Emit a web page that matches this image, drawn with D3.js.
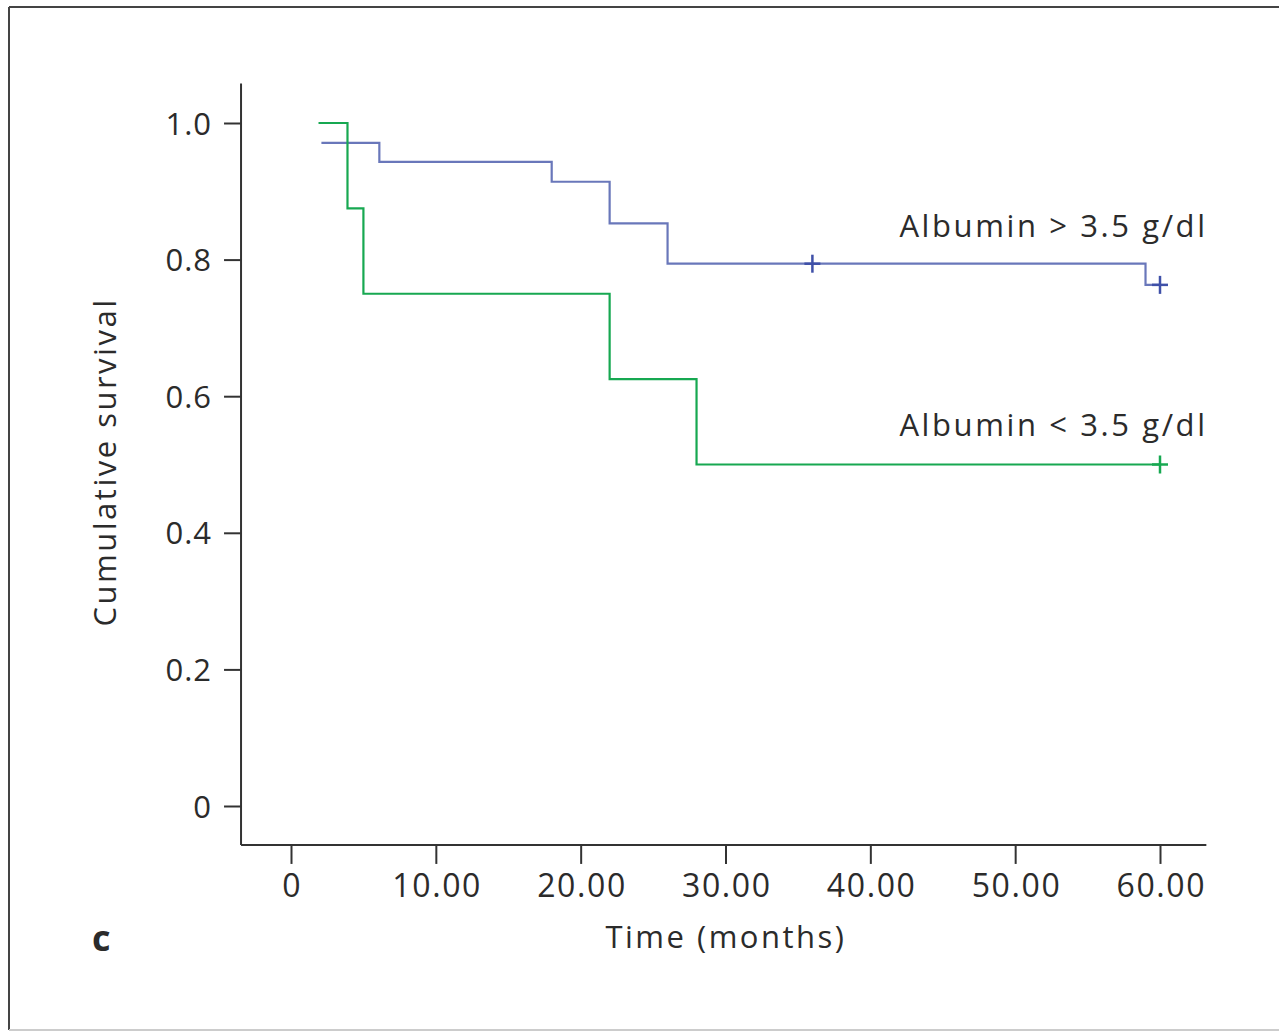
<!DOCTYPE html>
<html><head><meta charset="utf-8">
<script src="https://cdn.jsdelivr.net/npm/d3@7"></script>
<style>body{margin:0;background:#fff}svg{display:block}text{font-family:"Open Sans",sans-serif;fill:#2b2b2b}</style>
</head><body><svg id="c" width="1279" height="1032"></svg>
<script>
// Data
const highTimes = [2.1, 6.1, 18.0, 22.0, 26.0, 59.0];
const highSurv  = [0.971, 0.943, 0.914, 0.853, 0.794, 0.763];
const highEnd = 60.0;
const highCensor = [36.0, 60.0];
const lowTimes = [1.9, 3.9, 5.0, 22.0, 28.0];
const lowSurv  = [1.0, 0.875, 0.75, 0.625, 0.5];
const lowEnd = 60.0;
const lowCensor = [60.0];
const seriesLabels = ["Albumin > 3.5 g/dl", "Albumin < 3.5 g/dl"];
const xTicks = [0, 10, 20, 30, 40, 50, 60];
const xTickLabels = ["0", "10.00", "20.00", "30.00", "40.00", "50.00", "60.00"];
const yTicks = [0, 0.2, 0.4, 0.6, 0.8, 1.0];
const yTickLabels = ["0", "0.2", "0.4", "0.6", "0.8", "1.0"];
const xAxisExtent = [-3.45, 63.2];
const yAxisExtent = [-0.057, 1.058];

const svg = d3.select("#c");
const x = d3.scaleLinear().domain([0, 60]).range([291, 1160]);
const y = d3.scaleLinear().domain([0, 1]).range([806, 123]);

// frame
svg.append("line").attr("x1",9).attr("y1",7).attr("x2",1290).attr("y2",7).attr("stroke","#444").attr("stroke-width",2);
svg.append("line").attr("x1",9).attr("y1",7).attr("x2",9).attr("y2",1030).attr("stroke","#444").attr("stroke-width",2);
svg.append("line").attr("x1",9).attr("y1",1030).attr("x2",1290).attr("y2",1030).attr("stroke","#ccc").attr("stroke-width",2);

const axisColor = "#333";
// x axis
const gx = svg.append("g").attr("transform",`translate(0,${y(yAxisExtent[0])})`)
  .call(d3.axisBottom(x).tickValues(xTicks).tickFormat((d,i)=>xTickLabels[i]).tickSize(19).tickSizeOuter(0).tickPadding(10));
gx.select(".domain").attr("d", `M${x(xAxisExtent[0])},0H${x(xAxisExtent[1])}`);
gx.selectAll("path,line").attr("stroke",axisColor).attr("stroke-width",2);
gx.selectAll("text").attr("font-size",32).attr("fill","#2b2b2b").attr("font-family","Open Sans")
  .attr("letter-spacing",1.6).attr("dx",0.8);

// y axis
const gy = svg.append("g").attr("transform",`translate(${x(xAxisExtent[0])},0)`)
  .call(d3.axisLeft(y).tickValues(yTicks).tickFormat((d,i)=>yTickLabels[i]).tickSize(17).tickSizeOuter(0).tickPadding(13));
gy.select(".domain").attr("d", `M0,${y(yAxisExtent[1])}V${y(yAxisExtent[0])}`);
gy.selectAll("path,line").attr("stroke",axisColor).attr("stroke-width",2);
gy.selectAll("text").attr("font-size",31).attr("fill","#2b2b2b").attr("font-family","Open Sans").attr("dy","0.36em")
  .attr("letter-spacing",1).attr("dx",1);

// step curves
function steps(times, surv, end){
  const pts = times.map((t,i)=>[t,surv[i]]);
  pts.push([end, surv[surv.length-1]]);
  return pts;
}
const line = d3.line().x(d=>x(d[0])).y(d=>y(d[1])).curve(d3.curveStepAfter);
const blue = "#4f5fae", green = "#17a851";
svg.append("path").datum(steps(highTimes, highSurv, highEnd)).attr("d", line)
  .attr("fill","none").attr("stroke",blue).attr("stroke-width",2.2).attr("stroke-opacity",0.85);
svg.append("path").datum(steps(lowTimes, lowSurv, lowEnd)).attr("d", line)
  .attr("fill","none").attr("stroke",green).attr("stroke-width",2.2);

function survAt(times, surv, t){ let s = surv[0]; times.forEach((tt,i)=>{ if (t>=tt) s = surv[i]; }); return s; }
function censor(ts, times, surv, color){
  ts.forEach(t=>{
    const cx = x(t), cy = y(survAt(times, surv, t));
    svg.append("line").attr("x1",cx-8).attr("x2",cx+8).attr("y1",cy).attr("y2",cy).attr("stroke",color).attr("stroke-width",2.5);
    svg.append("line").attr("x1",cx).attr("x2",cx).attr("y1",cy-9).attr("y2",cy+9).attr("stroke",color).attr("stroke-width",2.5);
  });
}
censor(highCensor, highTimes, highSurv, "#3f50a8");
censor(lowCensor, lowTimes, lowSurv, green);

// series labels
const ls = 2.6;
svg.append("text").attr("x",1205+ls).attr("y",237).attr("text-anchor","end").attr("font-size",31).attr("letter-spacing",ls).text(seriesLabels[0]);
svg.append("text").attr("x",1205+ls).attr("y",436).attr("text-anchor","end").attr("font-size",31).attr("letter-spacing",ls).text(seriesLabels[1]);

// axis titles
svg.append("text").attr("transform","translate(116,462) rotate(-90)").attr("text-anchor","middle").attr("font-size",31).attr("letter-spacing",2.5).text("Cumulative survival");
svg.append("text").attr("x",726).attr("y",948).attr("text-anchor","middle").attr("font-size",31).attr("letter-spacing",2.5).text("Time (months)");
svg.append("text").attr("x",92).attr("y",951).attr("font-size",36).attr("font-weight","bold").attr("fill","#222").text("c");
</script></body></html>
